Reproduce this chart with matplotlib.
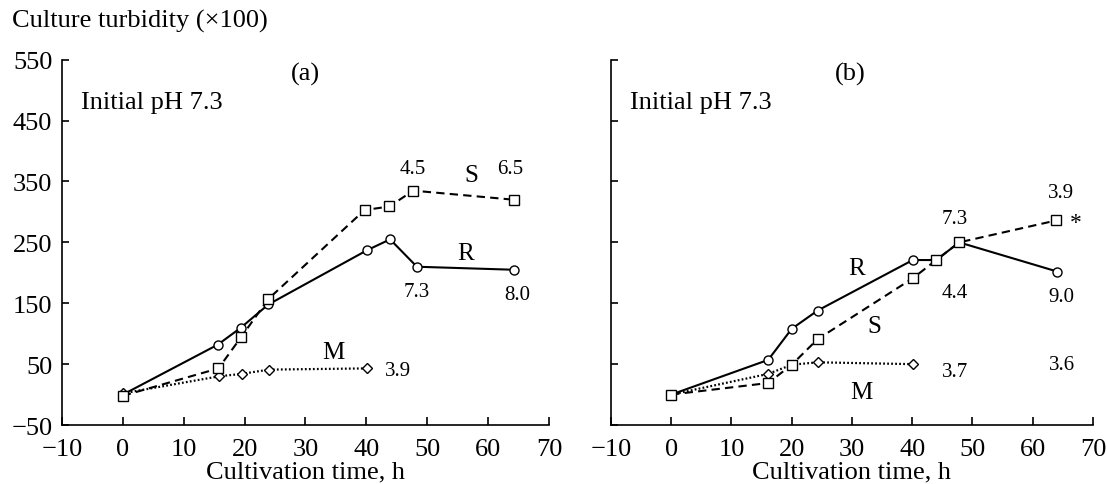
import numpy as np
from matplotlib import pyplot as plt

plt.rcParams['font.family'] = ['Liberation Serif', 'DejaVu Serif']
plt.rcParams['mathtext.fontset'] = 'stix'

# panel (a)
a_r_x = [0, 15.6, 19.4, 23.9, 40.1, 43.9, 48.3, 64.3]
a_r_y = [0, 82, 110, 148, 237, 255, 210, 205]
a_s_x = [0, 15.7, 19.4, 23.9, 39.7, 43.8, 47.7, 64.3]
a_s_y = [-2, 43, 94, 157, 303, 309, 335, 320]
a_m_x = [0, 15.8, 19.5, 24, 40.1]
a_m_y = [2, 30, 34, 41, 43]

# panel (b)
b_r_x = [0, 16.1, 20, 24.3, 40.1, 44, 47.8, 64.1]
b_r_y = [0, 57, 108, 138, 221, 221, 250, 202]
b_s_x = [0, 16.1, 20, 24.3, 40.1, 44, 47.8, 63.9]
b_s_y = [0, 19, 49, 91, 191, 221, 250, 286]
b_m_x = [0, 16.1, 20, 24.3, 40.1]
b_m_y = [0, 34, 49, 53, 50]

# annotations: (text, x, y, size)
a_notes = [("(a)", 30, 528, 19), ("4.5", 47.6, 372, 15), ("S", 57.3, 361, 18),
           ("6.5", 63.6, 372, 15), ("R", 56.3, 233, 18), ("7.3", 48.3, 170, 15),
           ("8.0", 64.8, 164, 15), ("M", 34.6, 70, 18), ("3.9", 45.2, 39, 15)]
b_notes = [("(b)", 29.7, 528, 19), ("R", 30.7, 208, 18), ("7.3", 47.1, 290, 15),
           ("4.4", 47.1, 167, 15), ("S", 33.7, 112, 18), ("3.7", 47.1, 38, 15),
           ("M", 31.5, 5, 18), ("3.9", 64.7, 332, 15), ("9.0", 64.8, 161, 15),
           ("3.6", 64.8, 50, 15), ("*", 67.2, 282, 17)]

x_ticks = np.arange(-10, 71, 10)
y_ticks = np.arange(-50, 551, 100)


def plot_panel(ax, r_x, r_y, s_x, s_y, m_x, m_y, notes, show_y):
    ax.plot(r_x, r_y, color='black', lw=1.5, marker='o', ms=6.5,
            mfc='white', mec='black', mew=1.0, zorder=3)
    ax.plot(m_x, m_y, color='black', lw=1.6, linestyle=(0, (0.8, 1.0)),
            marker='D', ms=5, mfc='white', mec='black', mew=1.0, zorder=4)
    ax.plot(s_x, s_y, color='black', lw=1.5, linestyle=(0, (4, 2.5)),
            marker='s', ms=6.5, mfc='white', mec='black', mew=1.0, zorder=5)
    for txt, x, y, size in notes:
        ax.text(x, y, txt, fontsize=size, ha='center', va='center')
    ax.text(-6.8, 481, "Initial pH 7.3", fontsize=19, ha='left', va='center')

    ax.set_xlim(-10, 70)
    ax.set_ylim(-50, 550)
    ax.set_xticks(x_ticks)
    ax.set_yticks(y_ticks)
    ax.spines['top'].set_visible(False)
    ax.spines['right'].set_visible(False)
    for sp in ('left', 'bottom'):
        ax.spines[sp].set_linewidth(1.2)
    ax.tick_params(direction='in', width=1.2, labelsize=19)
    ax.tick_params(axis='x', length=6, pad=9)
    ax.tick_params(axis='y', length=5, pad=7)
    if not show_y:
        ax.tick_params(axis='y', labelleft=False)
    ax.set_xticklabels([f"{t}" if t >= 0 else f"\u2212{-t}" for t in x_ticks])
    if show_y:
        ax.set_yticklabels([f"{t}" if t >= 0 else f"\u2212{-t}" for t in y_ticks])
    ax.set_xlabel("Cultivation time, h", fontsize=19, labelpad=1)


fig = plt.figure(figsize=(11.07, 4.85), dpi=100)
ax_a = fig.add_axes([0.0560, 0.1216, 0.4399, 0.7532])
ax_b = fig.add_axes([0.5519, 0.1216, 0.4354, 0.7532])
for ax in (ax_a, ax_b):
    ax.patch.set_alpha(0)

plot_panel(ax_a, a_r_x, a_r_y, a_s_x, a_s_y, a_m_x, a_m_y, a_notes, True)
plot_panel(ax_b, b_r_x, b_r_y, b_s_x, b_s_y, b_m_x, b_m_y, b_notes, False)

fig.text(12 / 1107, 1 - 21 / 485, "Culture turbidity (\u00d7100)", fontsize=19,
         ha='left', va='center')

fig.savefig("out.png", dpi=100)
